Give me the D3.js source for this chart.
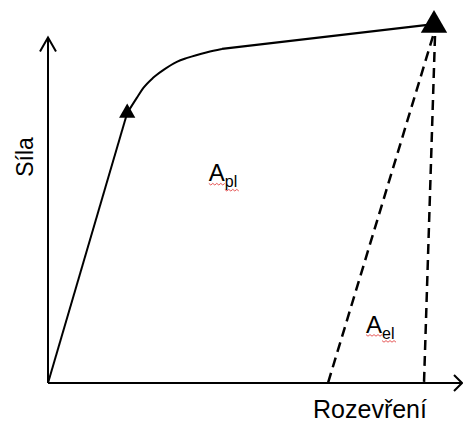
<!DOCTYPE html>
<style>
  body { margin: 0; background: #fff; }
  text { font-family: "Liberation Sans", Arial, sans-serif; fill: #000; }
</style>
<body>
<script src="https://d3js.org/d3.v7.js"></script>
<script>
  // force-opening curve, values in chart units (0..10 on both axes)
  const curveX = [0, 1.98, 2.22, 2.38, 2.62, 2.88, 3.22, 3.48, 3.98, 4.35, 9.65]
  const curveY = [0, 7.5, 7.92, 8.19, 8.47, 8.69, 8.92, 9.03, 9.19, 9.28, 9.97]
  // markers: yield point and peak
  const markerX = [1.98, 9.65]
  const markerY = [7.5, 9.97]
  const markerSize = [115, 300]
  // dashed unloading lines from the peak down to the x axis
  const unloadX = [7.0, 9.4]
  const labels = { x: 'Rozevření', y: 'Síla' }
  const areaLabels = [
    { main: 'A', sub: 'pl', x: 4.02, y: 5.6 },
    { main: 'A', sub: 'el', x: 7.95, y: 1.4 }
  ]

  const w = 463
  const h = 423

  const xScale = d3.scaleLinear().domain([0, 10]).range([48, 448])
  const yScale = d3.scaleLinear().domain([0, 10]).range([383, 23])

  const svg = d3.select('body')
              .append('svg')
              .attr('width', w)
              .attr('height', h)

  // axes with open arrow heads
  const x0 = xScale(0), y0 = yScale(0)
  const xEnd = xScale(10.35), yEnd = yScale(9.6)
  svg.append('line')
     .attr('x1', x0).attr('y1', y0).attr('x2', xEnd).attr('y2', y0)
     .attr('stroke', '#000').attr('stroke-width', 2)
  svg.append('line')
     .attr('x1', x0).attr('y1', y0).attr('x2', x0).attr('y2', yEnd)
     .attr('stroke', '#000').attr('stroke-width', 2)
  svg.append('path')
     .attr('d', `M${xEnd - 8},${y0 - 8}L${xEnd},${y0}L${xEnd - 8},${y0 + 8}`)
     .attr('fill', 'none').attr('stroke', '#000').attr('stroke-width', 2)
  svg.append('path')
     .attr('d', `M${x0 - 8},${yEnd + 14}L${x0},${yEnd}L${x0 + 8},${yEnd + 14}`)
     .attr('fill', 'none').attr('stroke', '#000').attr('stroke-width', 2)

  // curve: straight elastic part, rounded knee, straight hardening part
  const pts = curveX.map((x, i) => [xScale(x), yScale(curveY[i])])
  svg.append('path')
     .attr('d', d3.line()(pts.slice(0, 2)))
     .attr('fill', 'none').attr('stroke', '#000').attr('stroke-width', 2)
  svg.append('path')
     .attr('d', d3.line().curve(d3.curveMonotoneX)(pts.slice(1, 10)))
     .attr('fill', 'none').attr('stroke', '#000').attr('stroke-width', 2)
  svg.append('path')
     .attr('d', d3.line()(pts.slice(9)))
     .attr('fill', 'none').attr('stroke', '#000').attr('stroke-width', 2.2)

  // dashed unloading lines
  const peak = [xScale(markerX[1]), yScale(markerY[1])]
  svg.selectAll('line.unload')
     .data(unloadX)
     .enter()
     .append('line')
     .attr('class', 'unload')
     .attr('x1', (d, i) => peak[0] + (i ? 1 : -1))
     .attr('y1', peak[1] + 12)
     .attr('x2', d => xScale(d))
     .attr('y2', y0)
     .attr('stroke', '#000')
     .attr('stroke-width', 2.5)
     .attr('stroke-dasharray', '10,6')

  // triangle markers
  svg.selectAll('path.marker')
     .data(markerX)
     .enter()
     .append('path')
     .attr('class', 'marker')
     .attr('d', (d, i) => d3.symbol(d3.symbolTriangle, markerSize[i])())
     .attr('transform', (d, i) => `translate(${xScale(d)},${yScale(markerY[i]) + (i ? 1 : 0)})`)
     .attr('fill', '#000')

  // axis titles
  svg.append('text')
     .attr('x', 370).attr('y', 418)
     .attr('text-anchor', 'middle')
     .style('font-size', '25px')
     .text(labels.x)
  svg.append('text')
     .attr('transform', 'translate(33,157) rotate(-90)')
     .attr('text-anchor', 'middle')
     .style('font-size', '23px')
     .text(labels.y)

  // area labels with subscripts and spell-check squiggles
  function squiggle(xa, xb, y) {
    let d = `M${xa},${y}`
    for (let x = xa, k = 0; x < xb; x += 2, k++) d += `L${x + 2},${y + (k % 2 ? 0 : 1.6)}`
    return d
  }
  areaLabels.forEach(l => {
    const g = svg.append('g')
    const t = g.append('text')
               .attr('x', xScale(l.x)).attr('y', yScale(l.y))
               .style('font-size', '24px')
    t.append('tspan').text(l.main)
    t.append('tspan').attr('dy', 6).style('font-size', '16px').text(l.sub)
    const bb = t.node().getBBox()
    const ax = xScale(l.x)
    g.append('path')
     .attr('d', squiggle(ax, ax + 16, yScale(l.y) + 2) + squiggle(ax + 16, bb.x + bb.width, yScale(l.y) + 8))
     .attr('fill', 'none').attr('stroke', '#e03030').attr('stroke-width', 0.8)
  })
</script>
</body>
